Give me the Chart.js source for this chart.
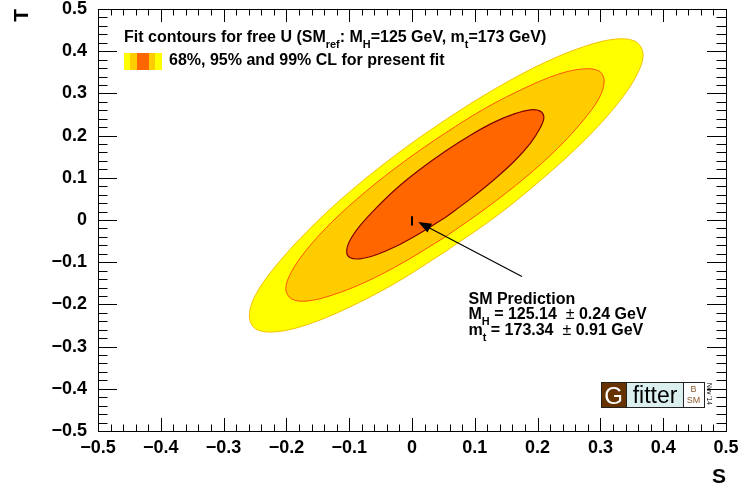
<!DOCTYPE html>
<html>
<head>
<meta charset="utf-8">
<script src="https://cdn.jsdelivr.net/npm/chart.js@4.4.1/dist/chart.umd.min.js"></script>
<style>
  body { margin: 0; background: #fff; }
  #wrap { width: 739px; height: 491px; }
</style>
</head>
<body>
<div id="wrap"><canvas id="stChart" width="739" height="491"></canvas></div>
<script>
// contour points (S, T), each a closed loop
let s68 = [0.053, 0.012, -0.026, -0.058, -0.083, -0.099, -0.104, -0.099, -0.083, -0.058, -0.026, 0.012, 0.053, 0.093, 0.131, 0.164, 0.189, 0.204, 0.210, 0.204, 0.189, 0.164, 0.131, 0.093, 0.053];
let t68 = [0.006, -0.032, -0.063, -0.083, -0.092, -0.089, -0.074, -0.049, -0.014, 0.027, 0.073, 0.119, 0.163, 0.201, 0.232, 0.252, 0.261, 0.258, 0.243, 0.218, 0.183, 0.141, 0.096, 0.050, 0.006];

let s95 = [0.053, -0.013, -0.074, -0.127, -0.167, -0.192, -0.201, -0.192, -0.167, -0.127, -0.074, -0.013, 0.053, 0.118, 0.180, 0.232, 0.272, 0.298, 0.306, 0.298, 0.272, 0.232, 0.180, 0.118, 0.053];
let t95 = [-0.040, -0.100, -0.147, -0.178, -0.192, -0.187, -0.163, -0.123, -0.069, -0.004, 0.067, 0.138, 0.206, 0.266, 0.313, 0.345, 0.358, 0.353, 0.330, 0.289, 0.235, 0.170, 0.100, 0.028, -0.040];

let s99 = [0.054, -0.027, -0.103, -0.167, -0.217, -0.249, -0.259, -0.249, -0.217, -0.167, -0.103, -0.027, 0.054, 0.136, 0.211, 0.276, 0.326, 0.357, 0.368, 0.357, 0.326, 0.276, 0.211, 0.136, 0.054];
let t99 = [-0.074, -0.150, -0.209, -0.248, -0.265, -0.258, -0.228, -0.177, -0.109, -0.027, 0.062, 0.153, 0.238, 0.314, 0.373, 0.412, 0.429, 0.422, 0.392, 0.341, 0.273, 0.191, 0.102, 0.011, -0.074];

// SM prediction (small vertical bar) and the arrow pointing at it
let smS = [0, 0];
let smT = [-0.013, 0.009];
let arrowS = [0.175, 0.010];
let arrowT = [-0.134, -0.005];

const FONT = '"Liberation Sans", Arial, Helvetica, sans-serif';

function toPoints(xs, ys) {
    let pts = [];
    for (let i = 0; i < xs.length; i++) {
        pts.push({x: xs[i], y: ys[i]});
    }
    return pts;
}

function fmtTick(v) {
    let r = Math.round(v * 10) / 10;
    if (r === 0) return '0';
    return (r < 0 ? '\u2212' : '') + Math.abs(r).toFixed(1);
}

// text with subscripts, parts = [{t, sub, normal}]
function drawRich(ctx, x, y, parts, size) {
    for (let p of parts) {
        let fs = p.sub ? size * 0.68 : size;
        ctx.font = (p.normal ? '' : 'bold ') + fs + 'px ' + FONT;
        ctx.fillText(p.t, x, y + (p.sub ? size * 0.38 : 0));
        x += ctx.measureText(p.t).width;
    }
}

const decorations = {
    id: 'decorations',
    afterDatasetsDraw(chart) {
        let ctx = chart.ctx;
        let a = chart.chartArea;
        let xs = chart.scales.x;
        let ys = chart.scales.y;
        ctx.save();

        // arrow to SM point
        let x0 = xs.getPixelForValue(arrowS[0]), y0 = ys.getPixelForValue(arrowT[0]);
        let x1 = xs.getPixelForValue(arrowS[1]), y1 = ys.getPixelForValue(arrowT[1]);
        let ang = Math.atan2(y1 - y0, x1 - x0);
        ctx.strokeStyle = '#000';
        ctx.fillStyle = '#000';
        ctx.lineWidth = 1.2;
        ctx.beginPath();
        ctx.moveTo(x0, y0);
        ctx.lineTo(x1 - 10 * Math.cos(ang), y1 - 10 * Math.sin(ang));
        ctx.stroke();
        ctx.beginPath();
        ctx.moveTo(x1, y1);
        ctx.lineTo(x1 - 13 * Math.cos(ang) + 5 * Math.sin(ang), y1 - 13 * Math.sin(ang) - 5 * Math.cos(ang));
        ctx.lineTo(x1 - 13 * Math.cos(ang) - 5 * Math.sin(ang), y1 - 13 * Math.sin(ang) + 5 * Math.cos(ang));
        ctx.closePath();
        ctx.fill();

        // frame
        ctx.lineWidth = 1;
        ctx.strokeRect(Math.round(a.left) + 0.5, Math.round(a.top) + 0.5, Math.round(a.right - a.left), Math.round(a.bottom - a.top));

        // ticks on all four sides, minor every 0.02
        ctx.beginPath();
        for (let i = 0; i <= 50; i++) {
            let v = -0.5 + i * 0.02;
            let major = i % 5 === 0;
            let px = Math.round(xs.getPixelForValue(v)) + 0.5;
            let lx = major ? 13 : 6.5;
            ctx.moveTo(px, a.bottom); ctx.lineTo(px, a.bottom - lx);
            ctx.moveTo(px, a.top); ctx.lineTo(px, a.top + lx);
            let py = Math.round(ys.getPixelForValue(v)) + 0.5;
            let ly = major ? 19 : 9.5;
            ctx.moveTo(a.left, py); ctx.lineTo(a.left + ly, py);
            ctx.moveTo(a.right, py); ctx.lineTo(a.right - ly, py);
        }
        ctx.stroke();

        // header texts
        ctx.fillStyle = '#000';
        ctx.textBaseline = 'alphabetic';
        ctx.textAlign = 'left';
        drawRich(ctx, 124, 42, [
            {t: 'Fit contours for free U (SM'}, {t: 'ref', sub: true},
            {t: ': M'}, {t: 'H', sub: true}, {t: '=125 GeV, m'}, {t: 't', sub: true},
            {t: '=173 GeV)'}
        ], 16);

        // legend swatch
        let sw = [['#ffff00', 6], ['#ffcc00', 7], ['#ff6600', 12], ['#ffcc00', 6], ['#ffff00', 7]];
        let sx = 124;
        for (let s of sw) {
            ctx.fillStyle = s[0];
            ctx.fillRect(sx, 53, s[1], 17);
            sx += s[1];
        }
        ctx.fillStyle = '#000';
        drawRich(ctx, 169, 64.5, [{t: '68%, 95% and 99% CL for present fit'}], 16);

        // SM prediction label
        drawRich(ctx, 468.5, 303.5, [{t: 'SM Prediction'}], 16);
        drawRich(ctx, 468.5, 319, [
            {t: 'M'}, {t: 'H', sub: true}, {t: ' = 125.14  '}, {t: '\u00b1', normal: true}, {t: ' 0.24 GeV'}
        ], 16);
        drawRich(ctx, 468.5, 334.5, [
            {t: 'm'}, {t: 't', sub: true}, {t: ' = 173.34  '}, {t: '\u00b1', normal: true}, {t: ' 0.91 GeV'}
        ], 16);

        // Gfitter logo
        let gx = 601, gy = 382, gh = 25;
        ctx.fillStyle = '#663300';
        ctx.fillRect(gx, gy, 25, gh);
        ctx.fillStyle = '#dcefef';
        ctx.fillRect(gx + 25, gy, 57, gh);
        ctx.fillStyle = '#fff';
        ctx.fillRect(gx + 82, gy, 21, gh);
        ctx.strokeStyle = '#222';
        ctx.lineWidth = 1;
        ctx.strokeRect(gx + 0.5, gy + 0.5, 103, gh);
        ctx.beginPath();
        ctx.moveTo(gx + 25.5, gy); ctx.lineTo(gx + 25.5, gy + gh);
        ctx.moveTo(gx + 82.5, gy); ctx.lineTo(gx + 82.5, gy + gh);
        ctx.stroke();
        ctx.textAlign = 'center';
        ctx.fillStyle = '#fff';
        ctx.font = '24px ' + FONT;
        ctx.fillText('G', gx + 12.5, gy + 21.5);
        ctx.fillStyle = '#000';
        ctx.font = '23px ' + FONT;
        ctx.fillText('fitter', gx + 54, gy + 20.5);
        ctx.fillStyle = '#8b5a2b';
        ctx.font = '9px ' + FONT;
        ctx.fillText('B', gx + 92.5, gy + 10);
        ctx.fillText('SM', gx + 92.5, gy + 21);
        ctx.save();
        ctx.translate(gx + 106, gy + 1);
        ctx.rotate(Math.PI / 2);
        ctx.textAlign = 'left';
        ctx.fillStyle = '#000';
        ctx.font = '6.5px ' + FONT;
        ctx.fillText("Nov '14", 0, 0);
        ctx.restore();

        ctx.restore();
    }
};

new Chart(document.getElementById('stChart'), {
    type: 'line',
    data: {
        datasets: [
            {
                label: 'SM',
                data: toPoints(smS, smT),
                borderColor: '#000',
                borderWidth: 2,
                pointRadius: 0,
                fill: false
            },
            {
                label: '68% CL',
                data: toPoints(s68, t68),
                borderColor: '#800000',
                borderWidth: 1.2,
                backgroundColor: '#ff6600',
                pointRadius: 0,
                tension: 0.35,
                fill: 'shape'
            },
            {
                label: '95% CL',
                data: toPoints(s95, t95),
                borderColor: '#ff5500',
                borderWidth: 1,
                backgroundColor: '#ffcc00',
                pointRadius: 0,
                tension: 0.35,
                fill: 'shape'
            },
            {
                label: '99% CL',
                data: toPoints(s99, t99),
                borderColor: '#f5c000',
                borderWidth: 1,
                backgroundColor: '#ffff00',
                pointRadius: 0,
                tension: 0.35,
                fill: 'shape'
            }
        ]
    },
    options: {
        responsive: false,
        animation: false,
        layout: {
            padding: {top: 9, right: 0, left: 0, bottom: 0}
        },
        plugins: {
            legend: {display: false},
            tooltip: {enabled: false}
        },
        scales: {
            x: {
                type: 'linear',
                min: -0.5,
                max: 0.5,
                grid: {display: false},
                border: {display: false},
                ticks: {
                    stepSize: 0.1,
                    autoSkip: false,
                    maxRotation: 0,
                    padding: -2,
                    color: '#000',
                    font: {family: FONT, size: 18, weight: 'bold'},
                    callback: (v) => fmtTick(v)
                },
                title: {
                    display: true,
                    text: 'S',
                    align: 'end',
                    color: '#000',
                    font: {family: FONT, size: 21, weight: 'bold'},
                    padding: {top: 0, bottom: 1}
                },
                afterFit: (scale) => {
                    scale.height = 60;
                    scale.paddingLeft = 0;
                    scale.paddingRight = 13;
                }
            },
            y: {
                type: 'linear',
                min: -0.5,
                max: 0.5,
                grid: {display: false},
                border: {display: false},
                ticks: {
                    stepSize: 0.1,
                    autoSkip: false,
                    padding: 3,
                    color: '#000',
                    font: {family: FONT, size: 18, weight: 'bold'},
                    callback: (v) => fmtTick(v)
                },
                title: {
                    display: true,
                    text: 'T',
                    align: 'end',
                    color: '#000',
                    font: {family: FONT, size: 21, weight: 'bold'},
                    padding: {top: 10, bottom: 0}
                },
                afterFit: (scale) => {
                    scale.width = 98;
                    scale.paddingTop = 0;
                    scale.paddingBottom = 0;
                }
            }
        }
    },
    plugins: [decorations]
});
</script>
</body>
</html>
